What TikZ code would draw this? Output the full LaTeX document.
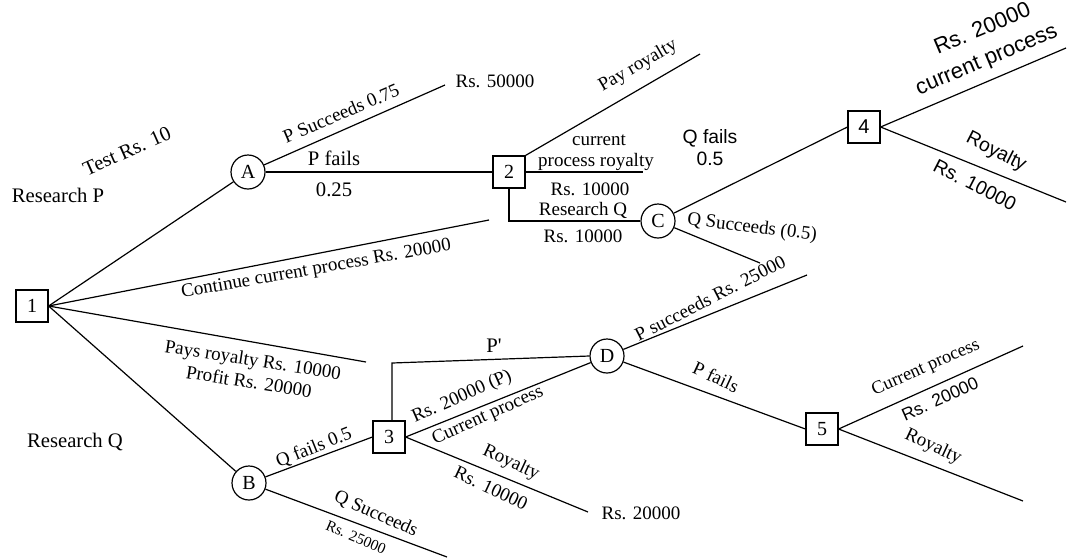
\documentclass[tikz,border=0pt]{standalone}
\usepackage{fontspec}
\setmainfont{Liberation Serif}
\setsansfont{Liberation Sans}
\newcommand\myfs[1]{\fontsize{#1}{#1}\selectfont}
\tikzset{
  dbox/.style={draw, line width=0.9pt, minimum width=24pt, minimum height=24pt, inner sep=0pt, font=\myfs{15}},
  chance/.style={draw, circle, line width=0.9pt, minimum size=25.5pt, inner sep=0pt, font=\myfs{15}},
  lbl/.style={inner sep=0pt, font=\myfs{14.25}},
  big/.style={inner sep=0pt, font=\myfs{15.5}},
  sml/.style={inner sep=0pt, font=\myfs{11.5}},
  slbl/.style={inner sep=0pt, font=\sffamily\myfs{14.5}},
  conn/.style={line width=0.9pt}
}
\begin{document}
\begin{tikzpicture}[x=0.75pt,y=-0.75pt]
\useasboundingbox[fill=white] (0,0) rectangle (1070,558);
% decision / chance nodes
\node[dbox] (n1) at (32,306) {1};
\node[chance] (A) at (248,172) {A};
\node[dbox] (n2) at (509,172) {2};
\node[chance] (C) at (658,221) {C};
\node[dbox, font=\sffamily\myfs{15}] (n4) at (864,127) {4};
\node[chance] (B) at (249,483) {B};
\node[dbox] (n3) at (389,437) {3};
\node[chance] (D) at (607,356) {D};
\node[dbox] (n5) at (822,429) {5};
% free ends
\coordinate (e50) at (445,85);
\coordinate (ePay) at (700,54);
\coordinate (eCur) at (643,172);
\coordinate (eCont) at (489,220);
\coordinate (eRoy1) at (366,362);
\coordinate (eQS) at (760,263);
\coordinate (e4u) at (1066,48);
\coordinate (e4d) at (1066,202);
\coordinate (eBQ) at (447,557);
\coordinate (e3R) at (588,512);
\coordinate (ePs) at (807,275);
\coordinate (e5u) at (1023,346);
\coordinate (e5d) at (1023,501);
\coordinate (k2) at (509,221);
\coordinate (k3) at (392,363);
% connectors
\draw[conn] (n1.east) -- (A);
\draw[conn] (n1.east) -- (eCont);
\draw[conn] (n1.east) -- (eRoy1);
\draw[conn] (n1.east) -- (B);
\draw[conn] (A) -- (e50);
\draw[conn] (A) -- (n2.west);
\draw[conn] (n2.north east) -- (ePay);
\draw[conn] (n2.east) -- (eCur);
\draw[conn] (n2.south) -- (k2) -- (C.west);
\draw[conn] (C) -- (n4.west);
\draw[conn] (C) -- (eQS);
\draw[conn] (n4.east) -- (e4u);
\draw[conn] (n4.east) -- (e4d);
\draw[conn] (B) -- (n3.west);
\draw[conn] (B) -- (eBQ);
\draw[conn] ([xshift=2.25pt]n3.north) -- (k3) -- (D.west);
\draw[conn] (n3.east) -- (D);
\draw[conn] (n3.east) -- (e3R);
\draw[conn] (D) -- (ePs);
\draw[conn] (D) -- (n5.west);
\draw[conn] (n5.east) -- (e5u);
\draw[conn] (n5.east) -- (e5d);
% labels
\node[big, rotate=24] (l1) at (127,151) {Test Rs. 10};
\node[big, anchor=base] (l2) at (58,202) {Research P};
\node[lbl, rotate=23] (l3) at (341,113) {P Succeeds 0.75};
\node[lbl, anchor=base] (l4) at (495,87) {Rs. 50000};
\node[big, anchor=base] (l5) at (334,165) {P fails};
\node[big, anchor=base] (l6) at (334,196) {0.25};
\node[lbl, rotate=30] (l7) at (638,66) {Pay royalty};
\node[lbl, anchor=base] (l8) at (599,145) {current};
\node[lbl, anchor=base] (l9) at (596,166) {process royalty};
\node[lbl, anchor=base] (l10) at (590,195) {Rs. 10000};
\node[lbl, anchor=base] (l11) at (583,215) {Research Q};
\node[lbl, anchor=base] (l12) at (583,242) {Rs. 10000};
\node[slbl, anchor=base] (l13) at (710,143) {Q fails};
\node[slbl, anchor=base] (l14) at (710,165) {0.5};
\node[lbl, rotate=-7] (l15) at (752,228) {Q Succeeds (0.5)};
\node[lbl, rotate=10, anchor=base] (l16) at (317,274) {Continue current process Rs. 20000};
\node[lbl, rotate=-9, anchor=base] (l17) at (252,366) {Pays royalty Rs. 10000};
\node[lbl, rotate=-9, anchor=base] (l18) at (248,388) {Profit Rs. 20000};
\node[big, anchor=base] (l19) at (75,447) {Research Q};
\node[lbl, rotate=22] (l20) at (314,448) {Q fails 0.5};
\node[lbl, rotate=-24] (l21) at (376,514) {Q Succeeds};
\node[sml, rotate=-23] (l22) at (356,537) {Rs. 25000};
\node[big, anchor=base] (l23) at (494,352) {P\textquotesingle};
\node[lbl, rotate=24] (l24) at (462,397) {Rs. 20000 (P)};
\node[lbl, rotate=24] (l25) at (488,416) {Current process};
\node[lbl, rotate=-25] (l26) at (511,463) {Royalty};
\node[lbl, rotate=-25] (l27) at (491,488) {Rs. 10000};
\node[lbl, anchor=base] (l28) at (641,519) {Rs. 20000};
\node[lbl, rotate=27] (l29) at (710,298) {P succeeds Rs. 25000};
\node[lbl, rotate=-25] (l30) at (716,377) {P fails};
\node[lbl, rotate=24, font=\myfs{13.8}] (l31) at (926,368) {Current process};
\node[slbl, rotate=24, font=\sffamily\myfs{13.2}] (l32) at (940,399) {Rs. 20000};
\node[lbl, rotate=-25] (l33) at (933,447) {Royalty};
\node[slbl, rotate=23, font=\sffamily\myfs{16.5}] (l34) at (982,28) {Rs. 20000};
\node[slbl, rotate=23, font=\sffamily\myfs{16.5}] (l35) at (987,61) {current process};
\node[slbl, rotate=-27] (l36) at (996,152) {Royalty};
\node[slbl, rotate=-27] (l37) at (975,185) {Rs. 10000};
\end{tikzpicture}
\end{document}
